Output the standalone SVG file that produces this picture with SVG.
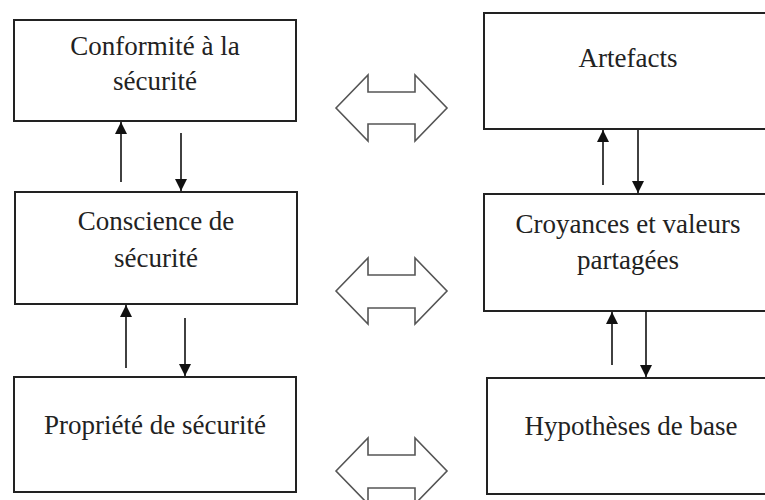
<svg xmlns="http://www.w3.org/2000/svg" width="765" height="500" viewBox="0 0 765 500">
<style>
.box{fill:#fff;stroke:#222;stroke-width:2}
.lbl{font-family:'Liberation Serif','DejaVu Serif',serif;font-size:27px;fill:#222;text-anchor:middle}
.con{stroke:#111;stroke-width:1.6;fill:none}
.dbl{fill:#fff;stroke:#555;stroke-width:1.6;stroke-linejoin:miter}
</style>
<defs>
<marker id="ah" markerUnits="userSpaceOnUse" markerWidth="12" markerHeight="12" viewBox="0 0 12 12" refX="12" refY="6" orient="auto">
<path d="M0,0 L12,6 L0,12 Z" fill="#111"/>
</marker>
</defs>
<rect width="765" height="500" fill="#fff"/>
<g id="n1"><rect class="box" x="14" y="20" width="282" height="101"/><text class="lbl" x="155" y="55">Conformité à la</text><text class="lbl" x="155" y="90">sécurité</text></g>
<g id="n2"><rect class="box" x="15" y="192" width="282" height="112"/><text class="lbl" x="156" y="230">Conscience de</text><text class="lbl" x="156" y="267">sécurité</text></g>
<g id="n3"><rect class="box" x="14" y="377" width="282" height="115"/><text class="lbl" x="155" y="434">Propriété de sécurité</text></g>
<g id="n4"><rect class="box" x="484" y="13" width="290" height="116"/><text class="lbl" x="628" y="67">Artefacts</text></g>
<g id="n5"><rect class="box" x="484" y="194" width="290" height="117"/><text class="lbl" x="628" y="233">Croyances et valeurs</text><text class="lbl" x="628" y="269">partagées</text></g>
<g id="n6"><rect class="box" x="487" y="378" width="290" height="116"/><text class="lbl" x="631" y="435">Hypothèses de base</text></g>
<g id="connectors">
<line class="con" x1="121" y1="182" x2="121" y2="122" marker-end="url(#ah)"/>
<line class="con" x1="181" y1="133" x2="181" y2="191" marker-end="url(#ah)"/>
<line class="con" x1="126" y1="368" x2="126" y2="305" marker-end="url(#ah)"/>
<line class="con" x1="185" y1="318" x2="185" y2="376" marker-end="url(#ah)"/>
<line class="con" x1="603" y1="185" x2="603" y2="130" marker-end="url(#ah)"/>
<line class="con" x1="638" y1="130" x2="638" y2="193" marker-end="url(#ah)"/>
<line class="con" x1="612" y1="365" x2="612" y2="312" marker-end="url(#ah)"/>
<line class="con" x1="646" y1="311" x2="646" y2="377" marker-end="url(#ah)"/>
<polygon class="dbl" points="336,108 368,75 368,92 415,92 415,75 447,108 415,141 415,124 368,124 368,141"/>
<polygon class="dbl" points="336,291 368,258 368,275 415,275 415,258 447,291 415,324 415,308 368,308 368,324"/>
<polygon class="dbl" points="336,471 368,438 368,455 415,455 415,438 447,471 415,504 415,488 368,488 368,504"/>
</g>
</svg>
